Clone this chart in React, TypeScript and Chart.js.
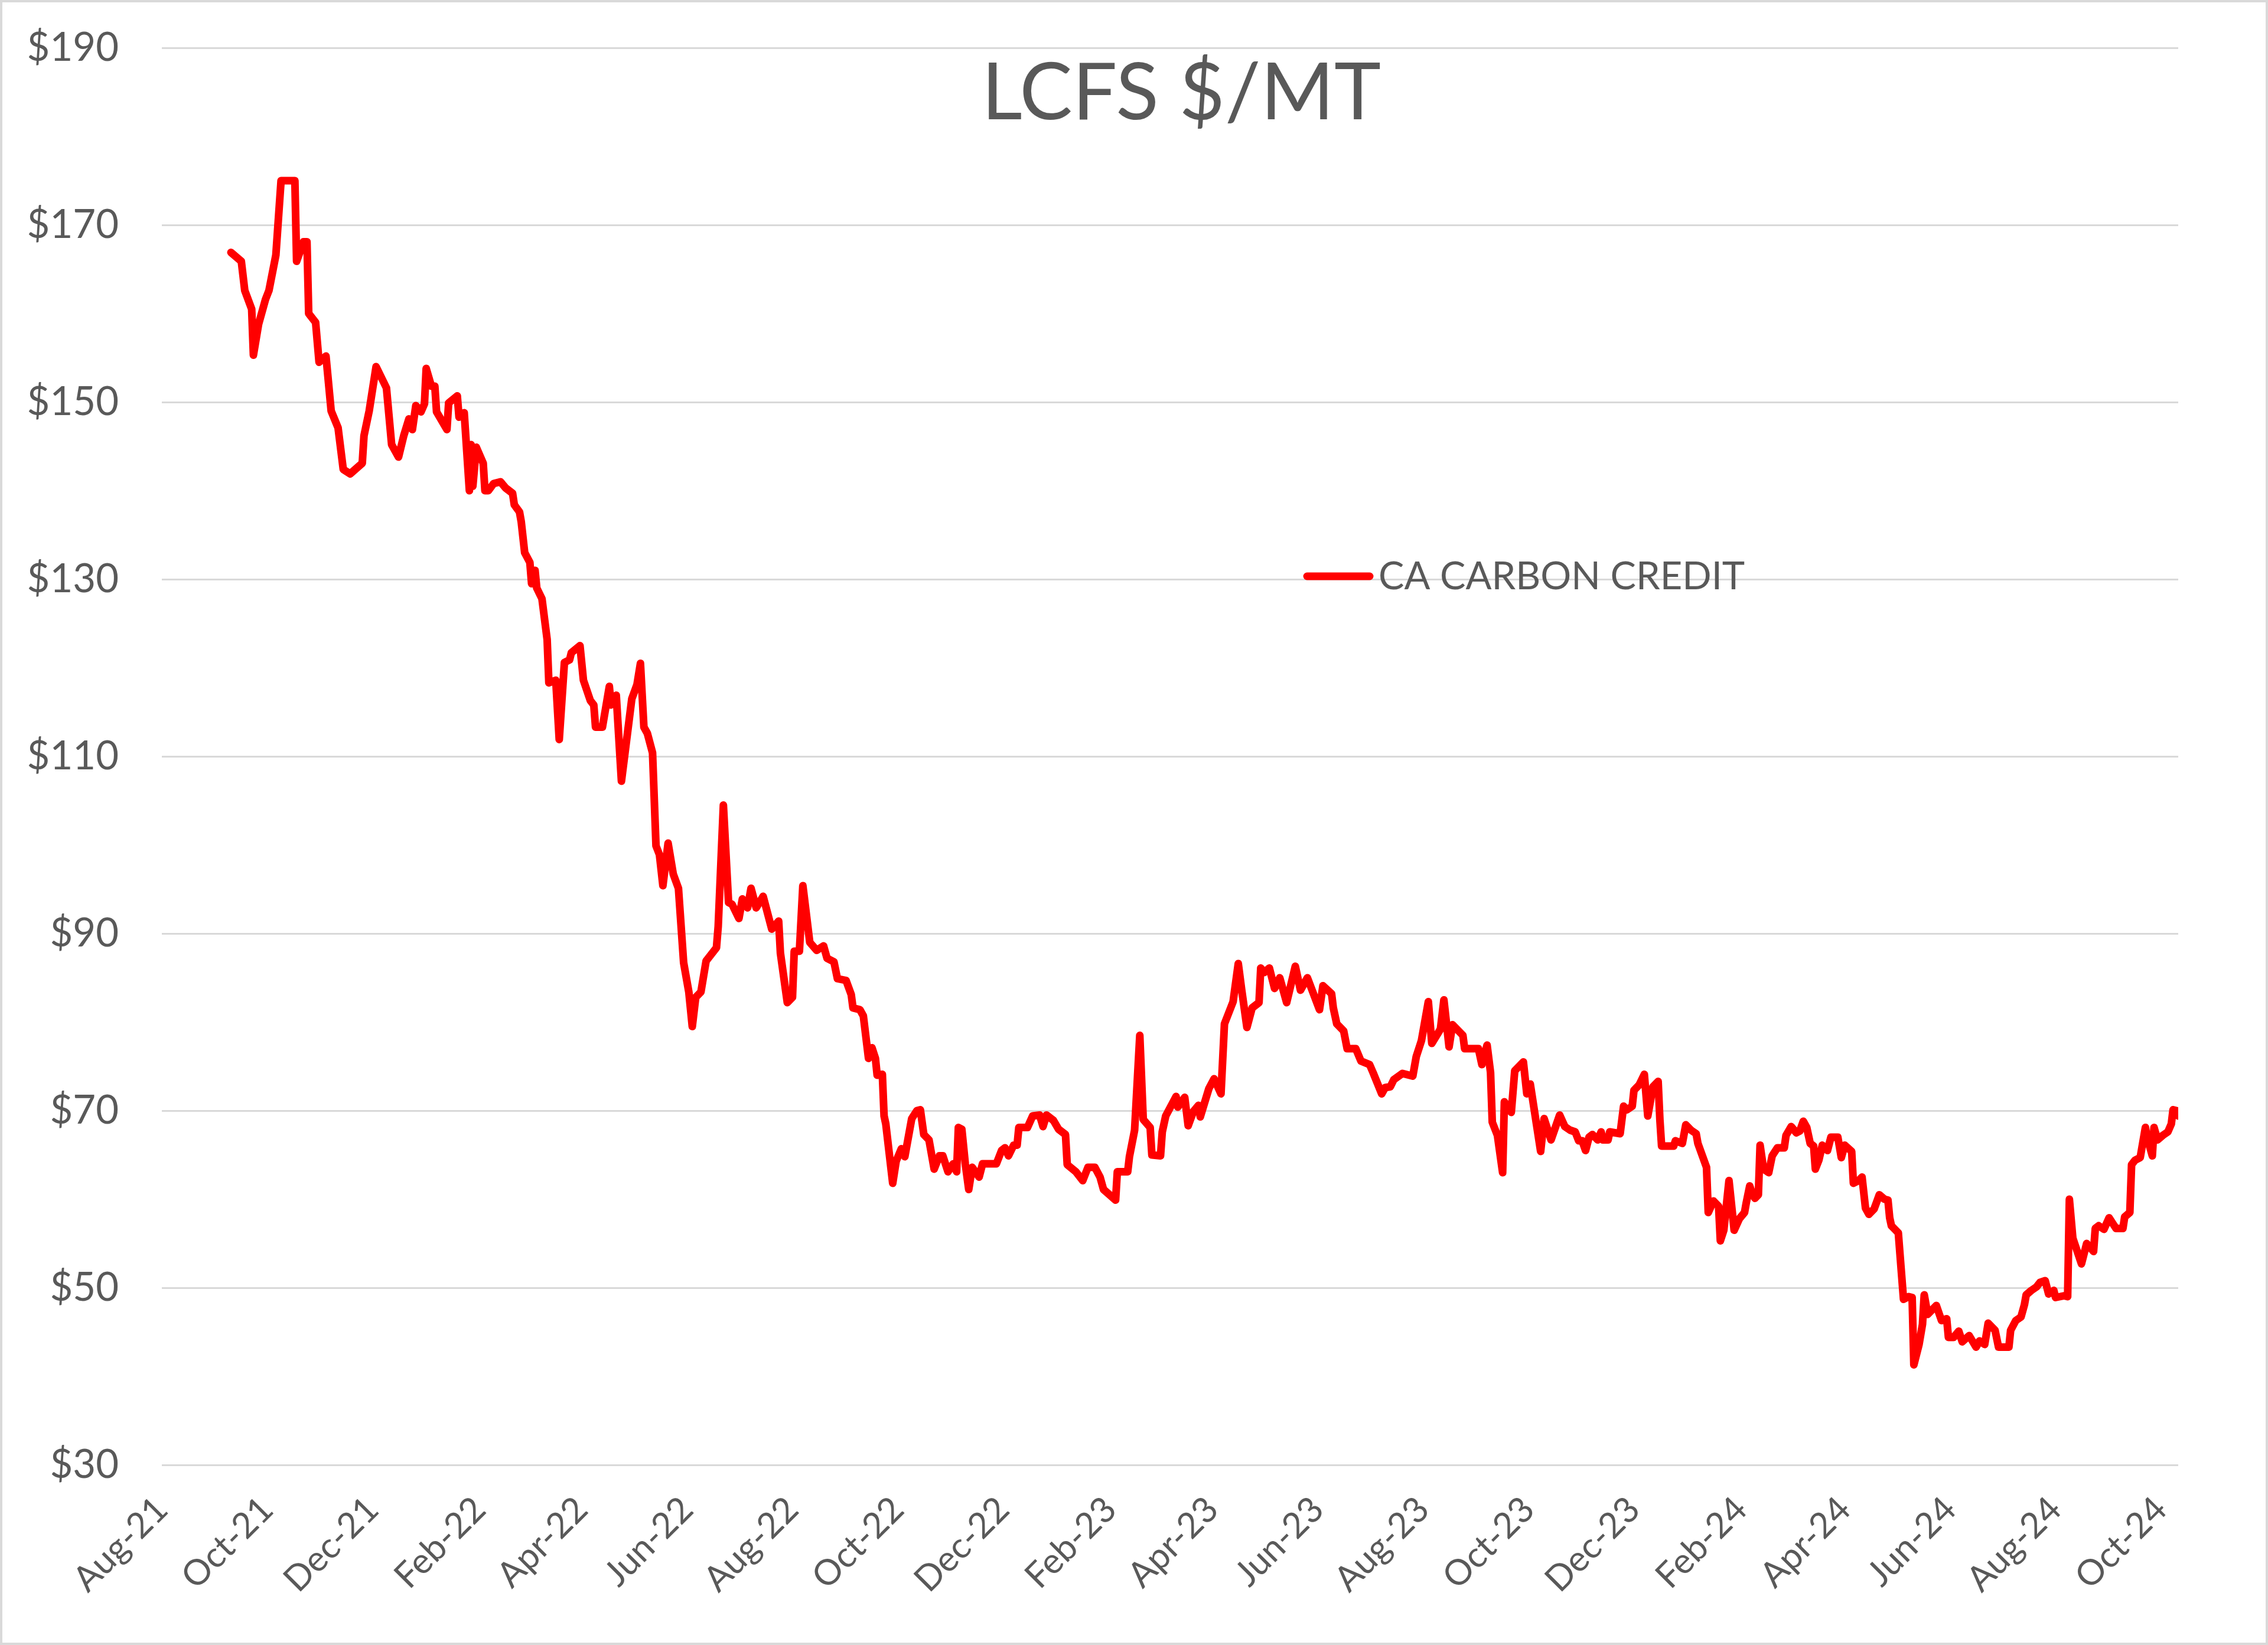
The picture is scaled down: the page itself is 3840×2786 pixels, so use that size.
import React, { useEffect, useRef } from "react";
import { Chart, registerables } from "chart.js";

Chart.register(...registerables);

const TITLE = "LCFS $/MT";
const SERIES_NAME = "CA CARBON CREDIT";

// x axis: days counted from this date (Aug-21 tick)
const BASE_DATE = "2021-08-01";
const AXIS_END_DAY = 1167; // ~ 2024-10-11, last observation

const X_TICK_LABELS = [
  "Aug-21", "Oct-21", "Dec-21", "Feb-22", "Apr-22", "Jun-22", "Aug-22",
  "Oct-22", "Dec-22", "Feb-23", "Apr-23", "Jun-23", "Aug-23", "Oct-23",
  "Dec-23", "Feb-24", "Apr-24", "Jun-24", "Aug-24", "Oct-24",
];

const Y_MIN = 30;
const Y_MAX = 190;
const Y_STEP = 20;

// observation dates, as days since BASE_DATE
const dayOffsets = [
  40, 46, 48, 52, 53, 56, 60, 62, 66, 69,
  77, 78, 82, 84, 85, 89, 91, 95, 98, 102,
  105, 109, 116, 117, 120, 124, 130, 133, 137, 140,
  143, 145,
  147, 150, 152, 153, 156, 158, 159, 165, 166, 171,
  172, 175, 178, 179, 180, 182, 186, 187, 189, 192,
  196, 199, 203, 204, 207, 208, 210, 213, 214, 216,
  217, 220, 223, 224, 228, 230, 233, 236, 237, 242,
  244, 248,
  250, 251, 255, 259, 260, 263, 266, 272, 275, 277,
  279, 281, 284, 286, 288, 290, 293, 296, 299,
  302, 305, 307, 309, 312, 315, 321, 322, 325, 328,
  330, 334, 336, 339, 341, 344, 348, 353, 357, 358,
  362, 365, 366, 369, 371, 375, 379, 383, 385, 389,
  391, 396, 399, 400, 404, 406, 409, 411, 413, 414,
  417, 418, 419, 423, 425, 428, 430, 434, 437, 439,
  441, 444, 447, 450, 452, 455, 458, 460, 461, 463,
  465, 467, 469, 473, 475, 483, 486, 488, 490, 493,
  495, 496, 501, 504, 508, 510, 512, 516, 519, 523,
  524, 529, 533, 536, 540, 543, 545, 552, 553, 559,
  560, 563, 566, 568, 572, 573, 578, 579, 581, 587,
  588, 592, 594, 597, 600, 601, 606, 609, 613, 615,
  620, 623, 625, 628, 631, 635, 636, 638, 641, 644,
  647, 651, 656, 659, 663, 670, 672, 677, 678, 680,
  684, 686, 691, 694, 699, 701, 706, 708, 711, 713,
  718, 724, 726, 729, 733, 735, 740, 742, 745, 747,
  753, 754, 762, 764, 767, 769, 770, 773, 776, 777,
  781, 783, 788, 790, 792, 798, 800, 804, 809, 812,
  815, 818, 820, 822, 824, 826, 828, 831, 833, 834,
  837, 838, 844, 846, 848, 851, 852, 855, 858, 860,
  863, 866, 867, 868, 875, 876, 880, 882, 885, 888,
  889, 894, 895, 898, 901, 902, 904, 907, 910, 913,
  916, 917, 919, 920, 922, 924, 925, 927, 930, 932,
  935, 939, 940, 943, 946, 948, 950, 952, 954, 956,
  957, 959, 961, 964, 966, 970, 972, 974, 978, 979,
  982, 984,
  986, 988, 991, 994, 997, 999, 1000, 1001, 1005, 1007,
  1008, 1011, 1013, 1014, 1017, 1019, 1020, 1022, 1024, 1027,
  1030, 1033, 1034, 1037, 1040, 1042, 1046, 1050, 1052, 1055,
  1057, 1061, 1063, 1069, 1070, 1073, 1076, 1078, 1079, 1082,
  1085, 1087, 1090, 1092, 1095, 1096, 1101, 1103, 1104, 1106,
  1111, 1114, 1118, 1119, 1121, 1124, 1127, 1131, 1135, 1136,
  1139, 1140, 1142, 1145, 1148, 1149, 1152, 1153, 1155, 1158,
  1161, 1163, 1164, 1166, 1167,
];

// CA carbon credit price, $/MT
const prices = [
  166.9, 165.9, 162.6, 160.5, 155.3, 158.8, 161.6, 162.6, 166.6, 175,
  175, 165.9, 168.1, 168.1, 160, 159, 154.5, 155.2, 149, 147.1,
  142.4, 141.9, 143.1, 146.2, 149, 154, 151.6, 145.2, 143.8, 146.2,
  148.1, 146.9,
  149.6, 148.9, 149.8, 153.8, 151.8, 151.8, 148.9, 146.9, 149.9, 150.7,
  148.3, 148.8, 140, 145.2, 140.5, 144.9, 143.1, 140, 140, 140.8,
  141, 140.3, 139.7, 138.4, 137.6, 136.5, 133, 131.9, 129.5, 131,
  129, 127.8, 123.2, 118.3, 118.6, 111.9, 120.6, 120.9, 121.7, 122.5,
  118.6, 116.3,
  115.8, 113.3, 113.3, 117.9, 115.8, 116.9, 107.2, 116.5, 118.1, 120.5,
  113.3, 112.6, 110.4, 99.9, 98.9, 95.4, 100.2, 96.7, 95.1,
  86.7, 83.4, 79.5, 82.8, 83.4, 86.9, 88.4, 90.8, 104.5, 93.5,
  93.3, 91.7, 93.9, 92.9, 95.1, 92.9, 94.2, 90.5, 91.4, 87.8,
  82.2, 82.8, 88, 88, 95.4, 89, 88.1, 88.6, 87.2, 86.8,
  84.9, 84.7, 83.1, 81.6, 81.4, 80.7, 75.9, 77.1, 75.9, 74,
  74.1, 69.4, 68.5, 61.8, 64.3, 65.7, 64.8, 69.1, 70, 70.1,
  67.3, 66.7, 63.4, 64.9, 64.9, 63.1, 64, 63.1, 68.1, 67.9,
  64, 61.1, 63.6, 62.5, 64, 64, 65.5, 65.8, 64.9, 66.1,
  66.1, 68.1, 68.1, 69.4, 69.5, 68.2, 69.5, 68.9, 67.9, 67.3,
  63.9, 63.1, 62.1, 63.6, 63.6, 62.5, 61.1, 59.9, 63.1, 63.1,
  64.8, 67.8, 78.5, 69, 68.1, 65, 64.9, 67.6, 69.4, 71.6,
  70.4, 71.5, 68.3, 69.9, 70.6, 69.3, 72.5, 73.6, 71.9, 79.8,
  82.3, 86.6, 83.6, 79.4, 81.6, 82.2, 86.1, 85.6, 86.1, 83.8,
  85, 82.2, 86.3, 83.6, 85, 81.4, 84.1, 83.2, 81.6, 79.8,
  79, 77, 77, 75.6, 75.2, 74.3, 71.9, 72.6, 72.7, 73.5,
  74.2, 73.9, 76.1, 77.9, 82.3, 77.6, 79.2, 82.5, 77.2, 79.7,
  78.5, 77, 77, 75.2, 77.4, 74.3, 68.7, 67.2, 63, 71,
  69.8, 74.5, 75.5, 71.9, 73, 65.4, 69.1, 66.7, 69.5, 68.2,
  67.8, 67.6, 66.6, 66.6, 65.5, 67, 67.3, 66.7, 67.6, 66.7,
  66.7, 67.6, 67.4, 70.5, 70.1, 70.5, 72.3, 72.9, 74.1, 69.4,
  72.7, 73.3, 69, 66, 66, 66.6, 66.3, 68.4, 67.8, 67.4,
  66.3, 63.6, 58.5, 59.8, 59.2, 55.3, 56.5, 62.1, 56.5, 57.8,
  58.5, 59.6, 61.5, 60.9, 60.1, 60.5, 66.1, 63.4, 63, 64.9,
  65.8, 65.8, 67.2, 68.2, 67.5, 67.7, 68.8, 68.1, 66.3, 66,
  63.4, 64.4, 66.1, 65.5, 67, 67, 64.7, 66.1, 65.4, 61.8,
  62.1, 62.5,
  59, 58.3, 58.9, 60.5, 60, 59.9, 57.9, 57, 56.2, 51.2,
  48.7, 49, 48.9, 41.3, 43.6, 45.9, 49.2, 47, 47.4, 48,
  46.3, 46.5, 44.4, 44.4, 45.1, 43.9, 44.6, 43.3, 44, 43.6,
  46, 45.2, 43.3, 43.3, 45.2, 46.3, 46.7, 48.1, 49.2, 49.7,
  50.1, 50.6, 50.8, 49.3, 49.7, 48.9, 49.1, 49, 60, 55.6,
  52.7, 55, 54.1, 56.7, 57, 56.6, 57.9, 56.7, 56.7, 58,
  58.5, 63.9, 64.4, 64.7, 68.1, 67, 64.9, 68.1, 66.7, 67.2,
  67.6, 68.5, 70.1, 70, 69.4,
];

const MONTHS = ["Jan", "Feb", "Mar", "Apr", "May", "Jun", "Jul", "Aug", "Sep", "Oct", "Nov", "Dec"];
const DAY_MS = 86400000;
const baseMs = Date.parse(BASE_DATE + "T00:00:00Z");
const tickDays = X_TICK_LABELS.map((lbl) => {
  const [m, yy] = lbl.split("-");
  return Math.round((Date.UTC(2000 + Number(yy), MONTHS.indexOf(m), 1) - baseMs) / DAY_MS);
});

const TEXT_COLOR = "#595959";
const GRID_COLOR = "#d9d9d9";
const LINE_COLOR = "#ff0000";
const FONT = "Lato";

const W = 3840;
const H = 2786;

const decorPlugin = {
  id: "decor",
  beforeDraw(chart: any) {
    const ctx = chart.ctx;
    ctx.save();
    ctx.fillStyle = "#ffffff";
    ctx.fillRect(0, 0, chart.width, chart.height);
    ctx.restore();
  },
  afterDraw(chart: any) {
    const ctx = chart.ctx;
    ctx.save();
    // outer frame
    ctx.strokeStyle = GRID_COLOR;
    ctx.lineWidth = 8;
    ctx.strokeRect(0, 0, chart.width, chart.height);
    // title
    ctx.fillStyle = TEXT_COLOR;
    ctx.font = `134px ${FONT}`;
    ctx.textAlign = "center";
    ctx.textBaseline = "alphabetic";
    ctx.fillText(TITLE, 2000, 202);
    // legend
    ctx.strokeStyle = LINE_COLOR;
    ctx.lineWidth = 13;
    ctx.lineCap = "round";
    ctx.beginPath();
    ctx.moveTo(2213, 976);
    ctx.lineTo(2319, 976);
    ctx.stroke();
    ctx.font = `65px ${FONT}`;
    ctx.textAlign = "left";
    ctx.fillText(SERIES_NAME, 2334, 998);
    ctx.restore();
  },
};

export default function App() {
  const canvasRef = useRef<HTMLCanvasElement | null>(null);

  useEffect(() => {
    const canvas = canvasRef.current;
    if (!canvas) return;
    const chart = new Chart(canvas, {
      type: "line",
      data: {
        datasets: [
          {
            label: SERIES_NAME,
            data: dayOffsets.map((d, i) => ({ x: d, y: prices[i] })),
            borderColor: LINE_COLOR,
            backgroundColor: LINE_COLOR,
            borderWidth: 13,
            pointRadius: 0,
            tension: 0,
            borderJoinStyle: "round",
            borderCapStyle: "round",
            fill: false,
          },
        ],
      },
      options: {
        responsive: false,
        animation: false,
        devicePixelRatio: 1,
        layout: { autoPadding: false, padding: { left: 0, right: W - 3688, top: 81, bottom: 0 } },
        plugins: {
          legend: { display: false },
          title: { display: false },
          tooltip: { enabled: false },
        },
        scales: {
          x: {
            type: "linear",
            min: 0,
            max: AXIS_END_DAY,
            afterBuildTicks: (scale: any) => {
              scale.ticks = tickDays.map((v) => ({ value: v }));
            },
            afterFit: (scale: any) => {
              scale.height = H - 2481;
              scale.paddingLeft = 0;
              scale.paddingRight = 0;
            },
            grid: { display: false, drawTicks: false },
            border: { display: false },
            ticks: {
              autoSkip: false,
              minRotation: 45,
              maxRotation: 45,
              padding: 40,
              color: TEXT_COLOR,
              font: { family: FONT, size: 60 },
              callback: (_v: any, i: number) => X_TICK_LABELS[i],
            },
          },
          y: {
            min: Y_MIN,
            max: Y_MAX,
            afterFit: (scale: any) => {
              scale.width = 274;
              scale.paddingTop = 0;
              scale.paddingBottom = 0;
            },
            grid: { color: GRID_COLOR, lineWidth: 3, drawTicks: false },
            border: { display: false },
            ticks: {
              stepSize: Y_STEP,
              padding: 73,
              color: TEXT_COLOR,
              font: { family: FONT, size: 67 },
              callback: (v: any) => "$" + v,
            },
          },
        },
      },
      plugins: [decorPlugin],
    } as any);
    return () => chart.destroy();
  }, []);

  return (
    <div style={{ position: "fixed", left: 0, top: 0, width: W, height: H, background: "#fff" }}>
      <canvas ref={canvasRef} width={W} height={H} style={{ display: "block", width: W, height: H }} />
    </div>
  );
}
